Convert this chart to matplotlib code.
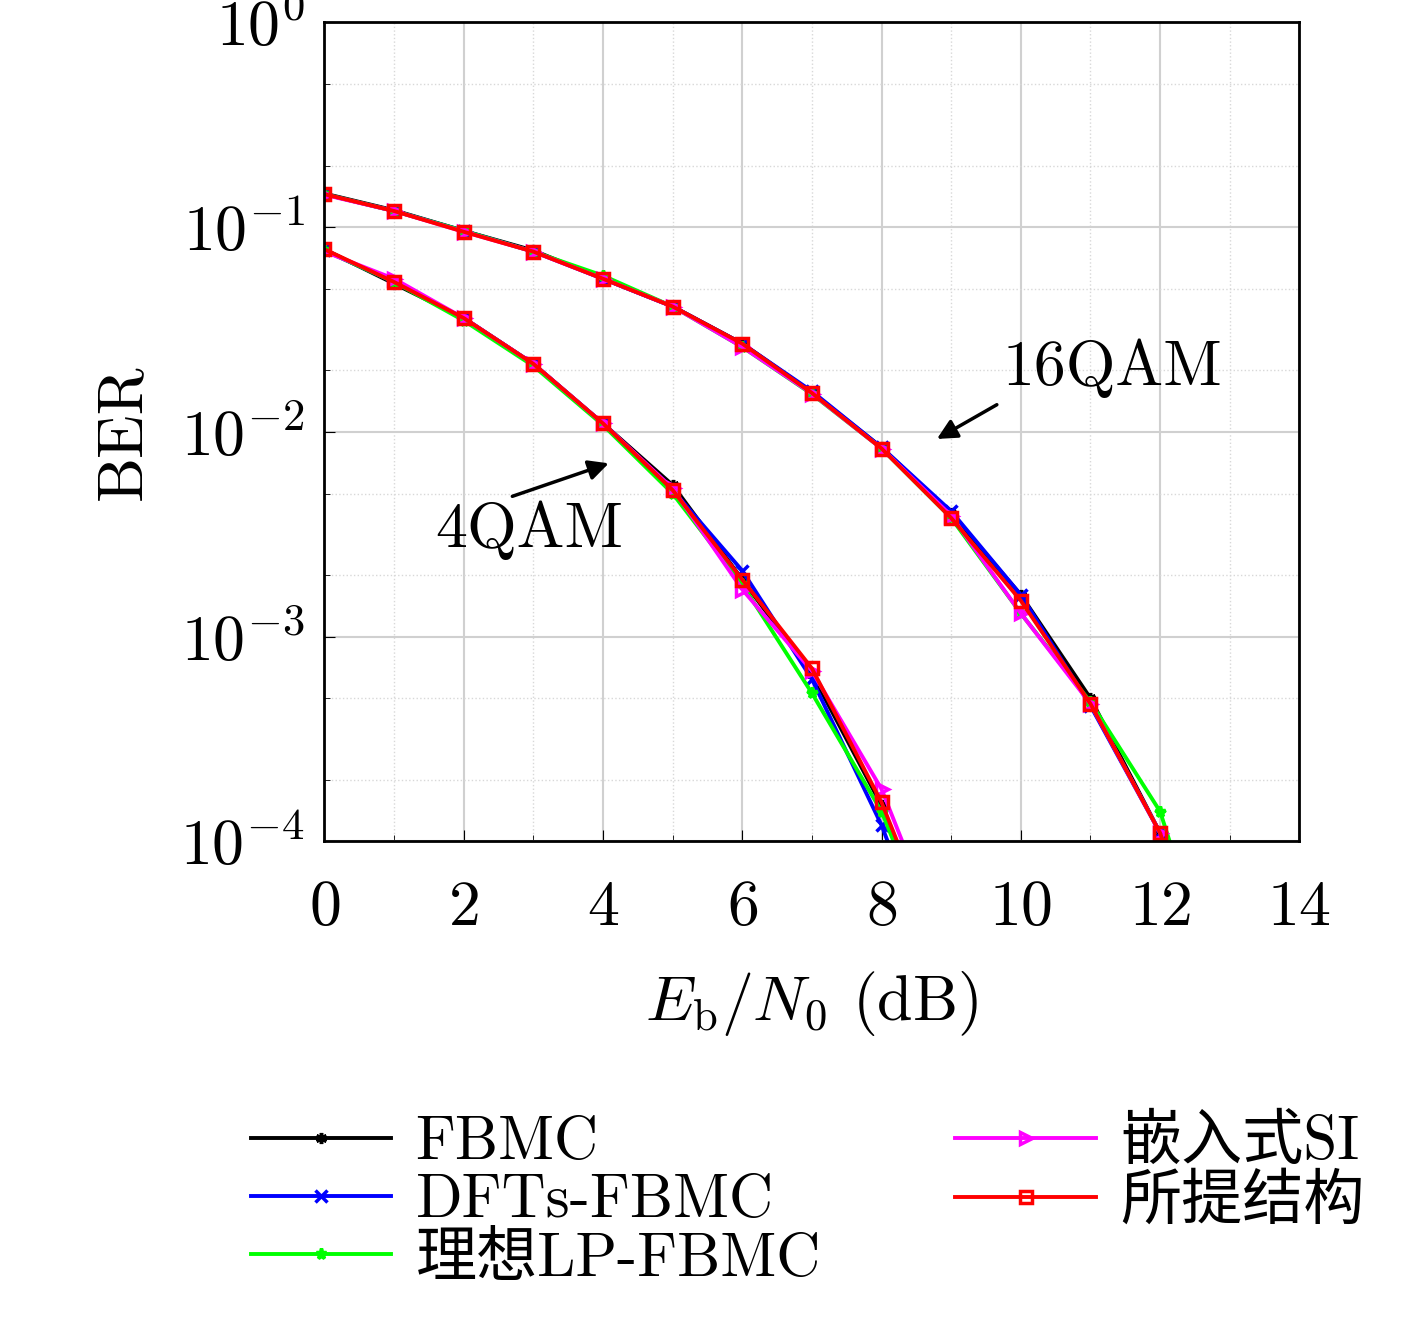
import matplotlib
matplotlib.use("Agg")
import matplotlib.pyplot as plt
from matplotlib.ticker import LogLocator, NullFormatter

plt.rcParams['font.family'] = ['cmr10', 'Noto Sans CJK SC']
plt.rcParams['mathtext.fontset'] = 'cm'
plt.rcParams['axes.formatter.use_mathtext'] = True

# ---- data ----
snr_16 = [0, 1, 2, 3, 4, 5, 6, 7, 8, 9, 10, 11, 12, 13]
snr_4 = [0, 1, 2, 3, 4, 5, 6, 7, 8, 9]

fbmc_16 = [0.146, 0.121, 0.096, 0.077, 0.056, 0.041, 0.027, 0.0156, 0.0084, 0.0040, 0.0016, 0.00050, 0.00011, 1e-5]
dfts_16 = [0.145, 0.120, 0.096, 0.076, 0.056, 0.041, 0.027, 0.0158, 0.0084, 0.0041, 0.0016, 0.00046, 0.00011, 1e-5]
lp_16 = [0.145, 0.120, 0.096, 0.076, 0.058, 0.041, 0.026, 0.0153, 0.0083, 0.0038, 0.0013, 0.00048, 0.00014, 1.2e-5]
si_16 = [0.144, 0.120, 0.095, 0.076, 0.056, 0.041, 0.026, 0.0154, 0.0083, 0.0039, 0.0013, 0.00047, 0.00011, 1e-5]
prop_16 = [0.145, 0.120, 0.095, 0.076, 0.056, 0.041, 0.027, 0.0155, 0.0083, 0.0038, 0.0015, 0.00047, 0.00011, 1e-5]

fbmc_4 = [0.078, 0.053, 0.036, 0.0215, 0.011, 0.0055, 0.0019, 0.00066, 0.00015, 2e-5]
dfts_4 = [0.077, 0.054, 0.036, 0.0215, 0.011, 0.0052, 0.0021, 0.00062, 0.00012, 1.5e-5]
lp_4 = [0.077, 0.054, 0.035, 0.021, 0.0108, 0.0050, 0.0018, 0.00053, 0.00014, 2e-5]
si_4 = [0.076, 0.056, 0.036, 0.0215, 0.011, 0.0053, 0.0017, 0.00068, 0.00018, 2.5e-5]
prop_4 = [0.078, 0.054, 0.036, 0.0215, 0.011, 0.0052, 0.0019, 0.00070, 0.000155, 2.2e-5]

labels = ['FBMC', 'DFTs-FBMC', '理想LP-FBMC', '嵌入式SI', '所提结构']
colors = ['black', 'blue', '#00ff00', '#ff00ff', 'red']
markers = [(6, 2, 0), 'x', '*', '>', 's']
fills = ['black', 'blue', '#00ff00', 'none', 'none']

fig = plt.figure(figsize=(14.17, 13.23), dpi=100)
ax = fig.add_axes([0.229, 0.364, 0.688, 0.619])

s16 = [fbmc_16, dfts_16, lp_16, si_16, prop_16]
s4 = [fbmc_4, dfts_4, lp_4, si_4, prop_4]
handles = []
for i in range(5):
    kw = dict(color=colors[i], marker=markers[i], markerfacecolor=fills[i],
              markersize=8, lw=2.8, markeredgewidth=2.5)
    h, = ax.plot(snr_16, s16[i], label=labels[i], **kw)
    ax.plot(snr_4, s4[i], **kw)
    handles.append(h)

ax.set_yscale('log')
ax.set_xlim(0, 14)
ax.set_ylim(1e-4, 1)
ax.set_xticks(range(0, 15, 2))
ax.yaxis.set_major_locator(LogLocator(base=10, numticks=10))
ax.yaxis.set_minor_locator(LogLocator(base=10, subs=[2, 5], numticks=10))
ax.yaxis.set_minor_formatter(NullFormatter())
ax.set_xticks(range(1, 14, 2), minor=True)
ax.grid(True, which='major', color='#d0d0d0', lw=1.5)
ax.grid(True, which='minor', color='#d8d8d8', lw=1, ls=':')
ax.tick_params(labelsize=46, direction='in', length=8)
ax.tick_params(axis='x', pad=28)
ax.tick_params(axis='y', pad=14)
ax.tick_params(which='minor', direction='in', length=4)
for sp in ax.spines.values():
    sp.set_linewidth(2)
ax.set_xlabel(r'$E_{\rm b}/N_0$ (dB)', fontsize=46, labelpad=22)
ax.set_ylabel('BER', fontsize=46, labelpad=20)

ax.annotate('', xy=(8.76, 0.0091), xytext=(9.69, 0.0138),
            arrowprops=dict(arrowstyle='-|>', color='black', lw=2.5, mutation_scale=30))
ax.text(9.74, 0.0204, '16QAM', fontsize=46, va='center', ha='left')
ax.annotate('', xy=(4.12, 0.0071), xytext=(2.66, 0.0048),
            arrowprops=dict(arrowstyle='-|>', color='black', lw=2.5, mutation_scale=30))
ax.text(2.94, 0.0033, '4QAM', fontsize=46, va='center', ha='center')

fig.legend(handles, labels,
           loc='lower center', bbox_to_anchor=(0.57, -0.015), ncol=2, frameon=False,
           fontsize=44, handlelength=2.3, columnspacing=2.2, labelspacing=0.05,
           handletextpad=0.4)

fig.savefig('out.png', dpi=100)
